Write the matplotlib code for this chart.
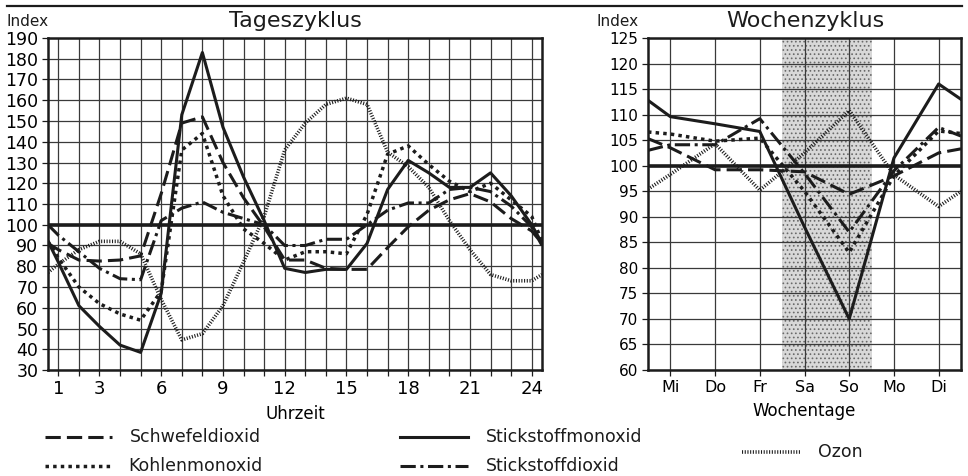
"""
Tages- und Wochenzyklus der Luftschadstoffe (Index, 100 = Mittel).
"""

import matplotlib
matplotlib.use("Agg")
import matplotlib.pyplot as plt

plt.rcParams["font.family"] = ["DejaVu Sans"]
plt.rcParams["hatch.linewidth"] = 0.7

# ---- Tageszyklus: hours incl. half-hour frame edges ----
hours = [0.5] + list(range(1, 25)) + [24.5]
hour_labels = [1, 3, 6, 9, 12, 15, 18, 21, 24]

so2_day = [91, 88, 83, 82.5, 83, 85, 115, 149, 152, 130, 113, 99, 83, 83, 79,
           78.5, 78.5, 89, 99, 107, 112, 115, 111, 103, 97, 91]
no_day = [92, 82, 61, 51, 42, 38.5, 67, 153, 183, 147, 123, 102, 79, 77, 78.5,
          78.5, 91, 117, 131, 125, 118, 118, 125, 114, 100, 91]
co_day = [92, 84, 70, 62, 57, 54, 68, 136, 144, 114, 98, 91, 83, 87, 87,
          86, 105, 134, 138, 129, 121, 116, 120, 112, 104, 92]
no2_day = [100, 95, 87, 79, 74, 73.5, 102, 108, 111, 106, 103, 100, 90, 90, 93,
           93, 100, 107, 110.5, 110.5, 117, 118, 116, 109, 99, 90]
o3_day = [77, 81, 88, 92, 92, 86, 64, 44.5, 47.5, 61, 82, 104, 136, 149, 158,
          161, 158, 135, 128, 118, 102, 88, 76, 73, 73, 76]

# ---- Wochenzyklus: weekdays incl. half-day frame edges ----
day_names = ["Mi", "Do", "Fr", "Sa", "So", "Mo", "Di"]
days = [-0.5, 0, 1, 2, 3, 4, 5, 6, 6.5]
weekend = (2.5, 4.5)

so2_week = [105.3, 103.5, 99.2, 99.2, 98.8, 94.4, 98, 102.5, 103.3]
no_week = [112.8, 109.6, 108.2, 106.7, 88, 70, 101.5, 116, 113]
co_week = [106.6, 106.2, 104.8, 105.4, 95, 83, 98, 106.8, 106.3]
no2_week = [103, 104.1, 104.1, 109.2, 98.5, 87, 99, 107.5, 105.8]
o3_week = [95.4, 98.3, 104.3, 95.2, 102.5, 110.8, 98.2, 92, 95]

ink = "#1c1c1c"
lw = 2.2
styles = {
    "Schwefeldioxid": dict(linestyle=(0, (5, 2)), linewidth=lw),
    "Stickstoffmonoxid": dict(linestyle="-", linewidth=lw),
    "Kohlenmonoxid": dict(linestyle=(0, (1, 1.2)), linewidth=lw + 0.3),
    "Stickstoffdioxid": dict(linestyle=(0, (5, 1.5, 1, 1.5)), linewidth=lw),
    "Ozon": dict(linestyle=(0, (0.3, 0.45)), linewidth=lw + 0.4),
}


def _style_axes(ax):
    ax.set_axisbelow(True)
    ax.grid(True, color="#3a3a3a", linewidth=0.9)
    for s in ax.spines.values():
        s.set_linewidth(1.8)
        s.set_color(ink)
    ax.tick_params(direction="out", length=4, width=0.9, color=ink, pad=3)
    ax.axhline(100, color=ink, linewidth=2.6, zorder=2)


def _series(ax, x, data):
    for name, ys in data:
        ax.plot(x, ys, color=ink, zorder=3, **styles[name])


fig = plt.figure(figsize=(9.68, 4.76), dpi=100)

# ---- Panel 1: Tageszyklus ----
ax1 = fig.add_axes([48 / 968, 1 - 370 / 476, 494 / 968, 332 / 476])
_style_axes(ax1)
_series(ax1, hours, [("Ozon", o3_day), ("Kohlenmonoxid", co_day),
                     ("Schwefeldioxid", so2_day), ("Stickstoffdioxid", no2_day),
                     ("Stickstoffmonoxid", no_day)])
ax1.set_xlim(0.5, 24.5)
ax1.set_ylim(30, 190)
ax1.set_xticks(list(range(1, 25)))
ax1.set_xticklabels([str(h) if h in hour_labels else "" for h in range(1, 25)],
                    fontsize=13)
ax1.set_yticks(list(range(30, 191, 10)))
ax1.tick_params(axis="y", labelsize=12.5)
ax1.set_xlabel("Uhrzeit", fontsize=12, labelpad=5)

# ---- Panel 2: Wochenzyklus ----
ax2 = fig.add_axes([648 / 968, 1 - 370 / 476, 313 / 968, 332 / 476])
ax2.axvspan(*weekend, facecolor="#d8d8d8", hatch="....", edgecolor="#6a6a6a",
            linewidth=0, zorder=0)
_style_axes(ax2)
_series(ax2, days, [("Ozon", o3_week), ("Kohlenmonoxid", co_week),
                    ("Schwefeldioxid", so2_week), ("Stickstoffdioxid", no2_week),
                    ("Stickstoffmonoxid", no_week)])
ax2.set_xlim(-0.5, 6.5)
ax2.set_ylim(60, 125)
ax2.set_xticks(list(range(len(day_names))))
ax2.set_xticklabels(day_names, fontsize=11.5)
ax2.set_yticks(list(range(60, 126, 5)))
ax2.tick_params(axis="y", labelsize=11)
ax2.set_xlabel("Wochentage", fontsize=12, labelpad=5)

# ---- Titles, header rule, index labels ----
fig.text(295 / 968, 1 - 21 / 476, "Tageszyklus", ha="center", va="center",
         fontsize=16, color=ink)
fig.text(805 / 968, 1 - 21 / 476, "Wochenzyklus", ha="center", va="center",
         fontsize=16, color=ink)
fig.text(6 / 968, 1 - 21 / 476, "Index", ha="left", va="center", fontsize=11,
         color=ink)
fig.text(597 / 968, 1 - 22 / 476, "Index", ha="left", va="center", fontsize=11,
         color=ink)

# ---- Legend strip (pixel coordinates) ----
leg = fig.add_axes([0, 0, 1, 1], zorder=-1)
leg.set_xlim(0, 968)
leg.set_ylim(476, 0)
leg.axis("off")
leg.plot([7, 962], [6, 6], color=ink, linewidth=1.6)

entries = [
    ("Schwefeldioxid", 45, 112, 437),
    ("Stickstoffmonoxid", 400, 468, 437),
    ("Kohlenmonoxid", 45, 110, 466),
    ("Stickstoffdioxid", 400, 468, 466),
    ("Ozon", 742, 800, 452),
]
for name, x0, x1, y in entries:
    leg.plot([x0, x1], [y, y], color=ink, **styles[name])
    leg.text(x1 + 18, y, name, ha="left", va="center", fontsize=12.5,
             color=ink)

fig.savefig("out.png", dpi=100, facecolor="white")
plt.close(fig)
